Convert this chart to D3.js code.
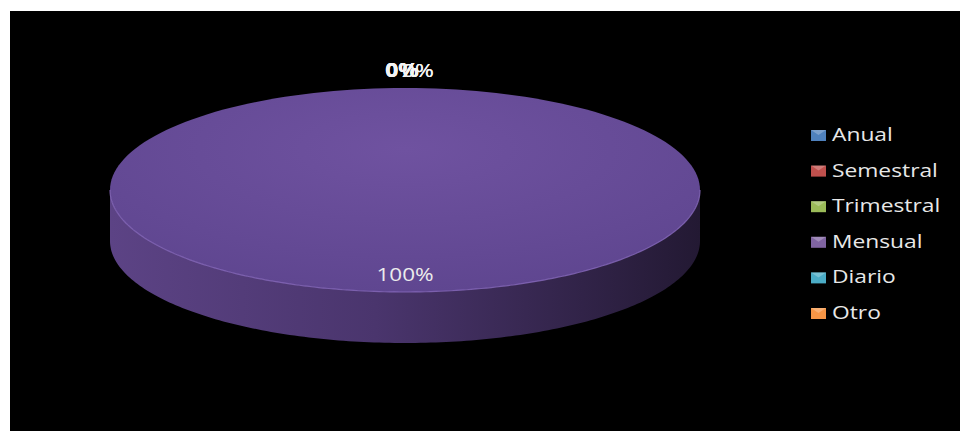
<!DOCTYPE html>
<html><head><meta charset="utf-8">
<script src="https://cdn.jsdelivr.net/npm/d3@7"></script>
<style>html,body{margin:0;padding:0;background:#fff;}svg{display:block;}</style>
</head><body><svg id="c" width="960" height="431"></svg>
<script>
const categories = ["Anual","Semestral","Trimestral","Mensual","Diario","Otro"];
const values = [0,0,0,100,0,0];
const colors = ["#4f81bd","#c0504d","#9bbb59","#8064a2","#4bacc6","#f79646"];
const topColors = ["#4f81bd","#c0504d","#9bbb59","#6b4f98","#4bacc6","#f79646"];

const svg = d3.select("#c");
svg.append("rect").attr("x",10).attr("y",11).attr("width",950).attr("height",420).attr("fill","#000");
const defs = svg.append("defs");

const cx = 405, cy = 190, rx = 295, ry = 102, depth = 51;
const total = d3.sum(values);
const pie = d3.pie().sort(null).value(d=>d).startAngle(0).endAngle(2*Math.PI);
const arcs = pie(values);
const pt = (a, dy=0) => [cx + rx*Math.sin(a), cy - ry*Math.cos(a) + dy];
const FONT = "'Open Sans', 'DejaVu Sans', sans-serif";

const sg = defs.append("linearGradient").attr("id","side").attr("x1","0").attr("x2","1").attr("y1","0").attr("y2","0");
sg.append("stop").attr("offset","0").attr("stop-color","#5c4385");
sg.append("stop").attr("offset","0.45").attr("stop-color","#4a356d");
sg.append("stop").attr("offset","1").attr("stop-color","#231933");
const tg = defs.append("radialGradient").attr("id","topg").attr("cx","0.5").attr("cy","0.3").attr("r","0.7");
tg.append("stop").attr("offset","0").attr("stop-color","#6f52a0");
tg.append("stop").attr("offset","1").attr("stop-color","#5f4690");

const N = 180;
function sidePath(a0,a1){
  const s = Math.max(a0, Math.PI/2), e = Math.min(a1, 3*Math.PI/2);
  if (e <= s) return null;
  const top = d3.range(N+1).map(i=>pt(s + (e-s)*i/N));
  const bot = d3.range(N+1).map(i=>pt(e - (e-s)*i/N, depth));
  return "M" + top.concat(bot).map(p=>p.join(",")).join("L") + "Z";
}
function topPath(a0,a1){
  const pts = d3.range(N+1).map(i=>pt(a0 + (a1-a0)*i/N));
  const full = (a1-a0) >= 2*Math.PI - 1e-9;
  return full ? "M" + pts.map(p=>p.join(",")).join("L") + "Z"
              : "M" + [cx,cy] + "L" + pts.map(p=>p.join(",")).join("L") + "Z";
}

arcs.forEach((d,i)=>{
  if (d.endAngle - d.startAngle <= 0) return;
  const sp = sidePath(d.startAngle, d.endAngle);
  if (sp) svg.append("path").attr("d", sp).attr("fill", i===3 ? "url(#side)" : colors[i]);
});
arcs.forEach((d,i)=>{
  if (d.endAngle - d.startAngle <= 0) return;
  svg.append("path").attr("d", topPath(d.startAngle, d.endAngle)).attr("fill", i===3 ? "url(#topg)" : topColors[i]);
});
const rimPts = d3.range(N+1).map(i=>pt(Math.PI/2 + Math.PI*i/N));
svg.append("path").attr("d","M"+rimPts.map(p=>p.join(",")).join("L"))
  .attr("fill","none").attr("stroke","#8a6cbf").attr("stroke-width",1.2).attr("opacity",0.8);

// labels (horizontally stretched like the reference)
const fmt = v => Math.round(v/total*100) + "%";
arcs.forEach((d,i)=>{
  const mid = (d.startAngle + d.endAngle)/2;
  if (d.value === 0) {
    const p = pt(mid);
    const before = d.startAngle < Math.PI;
    const shift = before ? -3 : 13;
    svg.append("text").attr("transform", `translate(${p[0]+shift},${p[1]-11}) scale(1.2,1)`)
      .attr("text-anchor","middle").attr("font-family",FONT)
      .attr("font-size",19).attr("fill","#f4f4f4").attr("font-weight", before ? "bold":"normal")
      .text(fmt(d.value));
  } else {
    svg.append("text").attr("transform", `translate(${cx},${cy + ry*0.89}) scale(1.25,1)`)
      .attr("text-anchor","middle").attr("font-family",FONT)
      .attr("font-size",18).attr("fill","#ececec").text(fmt(d.value));
  }
});

// legend
const lg = svg.append("g").attr("transform","translate(811,0)");
categories.forEach((c,i)=>{
  const y = 135 + i*35.6;
  lg.append("rect").attr("x",0).attr("y",y-5).attr("width",15).attr("height",11).attr("fill",colors[i]);
  lg.append("path").attr("d",`M0,${y-5}L7.5,${y}L15,${y-5}Z`).attr("fill","#fff").attr("opacity",0.25);
  lg.append("text").attr("transform",`translate(21,${y+6}) scale(1.2,1)`).attr("font-family",FONT)
    .attr("font-size",19).attr("fill","#e8e8e8").text(c);
});
</script></body></html>
